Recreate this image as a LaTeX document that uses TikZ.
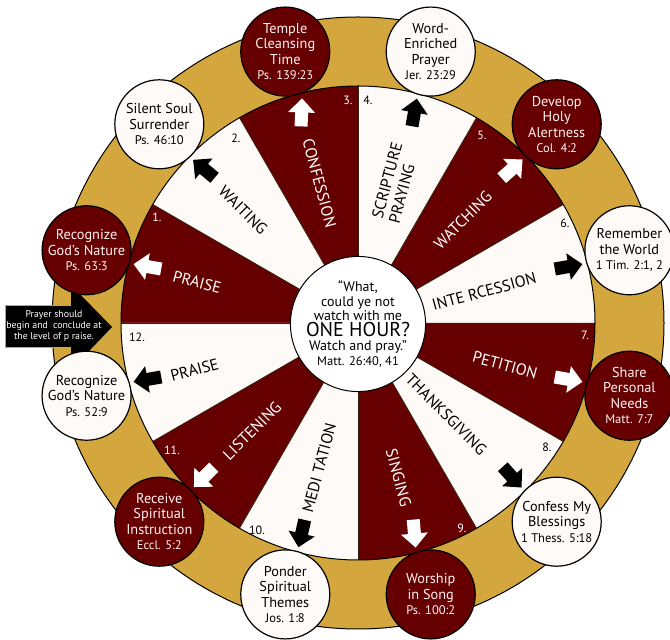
\documentclass[tikz,border=0pt]{standalone}
\usepackage{fontspec}
\setmainfont{PT Sans}
\usetikzlibrary{calc}
\definecolor{dred}{RGB}{102,0,0}
\definecolor{gold}{RGB}{212,167,62}
\definecolor{cream}{RGB}{253,250,247}
\newcommand{\refline}[1]{{\fontsize{12.5}{14}\selectfont #1}}
\begin{document}
\begin{tikzpicture}[x=1pt,y=1pt,
  wheelcirc/.style={circle, draw=black, line width=1.2pt, minimum size=89pt, inner sep=0pt, align=center, font=\fontsize{14.3}{15.5}\selectfont},
  darkcirc/.style={wheelcirc, fill=dred, text=white!95!red},
  lightcirc/.style={wheelcirc, fill=cream, text=black},
  wlabel/.style={font=\fontsize{16}{17.5}\selectfont, inner sep=0pt, align=left},
  num/.style={font=\fontsize{12}{14}\selectfont, inner sep=0pt},
  blockarrow/.pic={\path[pic actions] (-14,-6.5) -- (0,-6.5) -- (0,-13.5) -- (14,0) -- (0,13.5) -- (0,6.5) -- (-14,6.5) -- cycle;}
]
\useasboundingbox (0,0) rectangle (670,640);
\begin{scope}[shift={(358,317)}]
  % gold ring
  \fill[gold] (0,0) circle[radius=306];
  \draw[line width=1pt] (0,0) circle[radius=306];
  % sectors
  \foreach \a/\c in {0/cream,30/dred,60/cream,90/dred,120/cream,150/dred,180/cream,210/dred,240/cream,270/dred,300/cream,330/dred}
    \fill[\c] (0,0) -- (\a:237) arc[start angle=\a, end angle=\a+30, radius=237] -- cycle;
  \foreach \a in {0,30,...,330}
    \draw[line width=0.8pt, color=black!75!brown] (0,0) -- (\a:237);
  \draw[line width=1pt] (0,0) circle[radius=237];
  % hub
  \node[circle, draw, line width=1pt, fill=white, minimum size=120pt, inner sep=0pt, align=center,
        font=\fontsize{14}{14.5}\selectfont] (hub) at (0,-1)
    {“What,\\could ye not\\watch with me\\[1pt]
     {\fontsize{20}{16}\selectfont ONE HOUR?}\\[0pt]
     Watch and pray.”\\
     {\fontsize{12.5}{13.5}\selectfont Matt. 26:40, 41}};
  % sector labels
  \node[wlabel, text=white, rotate=-15] (l1) at (165.7:166) {PRAISE};
  \node[wlabel, rotate=-45] (l2) at (135.5:161) {WAITING};
  \node[wlabel, text=white, rotate=-75] (l3) at (105.4:145) {CONFESSION};
  \node[wlabel, rotate=75] (l4) at (75:145) {SCRIPTURE\\PRAYING};
  \node[wlabel, text=white, rotate=45] (l5) at (44.5:147) {WATCHING};
  \node[wlabel, rotate=15] (l6) at (14:130) {INTE RCESSION};
  \node[wlabel, text=white, rotate=-15] (l7) at (-16:153) {PETITION};
  \node[wlabel, rotate=-45] (l8) at (-46:127) {THANKSGIVING};
  \node[wlabel, text=white, rotate=-75] (l9) at (284.7:160) {SINGING};
  \node[wlabel, rotate=75] (l10) at (255:150) {MEDI TATION};
  \node[wlabel, text=white, rotate=45] (l11) at (225.5:151) {LISTENING};
  \node[wlabel, rotate=15] (l12) at (196:170) {PRAISE};
  % arrows
  \foreach \m/\r/\c [count=\k] in {165/170/white,135/140/black,105/88/white,75/80/black,45/42/white,15/10/black,-15/-10/white,-45/-48/black,-75/-85/white,-105/-103/black,-135/-135/white,-165/-170/black}
    \pic[fill=\c, rotate=\r] (arr\k) at (\m:218) {blockarrow};
\end{scope}
% numbers
\node[num, text=white] (n1) at (157,423) {1.};
\node[num] (n2) at (236,502) {2.};
\node[num, text=white] (n3) at (348,540) {3.};
\node[num] (n4) at (368,540) {4.};
\node[num, text=white] (n5) at (482,505) {5.};
\node[num] (n6) at (565,417) {6.};
\node[num, text=white] (n7) at (585,305) {7.};
\node[num] (n8) at (547,193) {8.};
\node[num, text=white] (n9) at (462,112) {9.};
\node[num] (n10) at (257,110) {10.};
\node[num, text=white] (n11) at (172,190) {11.};
\node[num] (n12) at (137,303) {12.};
% callout
\fill[black, draw=gray!70, line width=0.5pt] (5,293) rectangle (72,335);
\fill[black] (71,355) -- (112,313) -- (71,270) -- cycle;
\node[text=white, align=center, font=\fontsize{9.8}{11}\selectfont, inner sep=0pt] (note) at (54,314)
  {Prayer should\\begin and\ \ conclude at\\the level of p raise.};
% outer circles
\begin{scope}[shift={(358,317)}]
  \node[darkcirc] (c1) at (165:281) {Recognize\\God’s Nature\\\refline{Ps. 63:3}};
  \node[lightcirc] (c2) at (135:281) {Silent Soul\\Surrender\\\refline{Ps. 46:10}};
  \node[darkcirc] (c3) at (105:281) {Temple\\Cleansing\\Time\\\refline{Ps. 139:23}};
  \node[lightcirc] (c4) at (75:281) {Word-\\Enriched\\Prayer\\\refline{Jer. 23:29}};
  \node[darkcirc] (c5) at (45:281) {Develop\\Holy\\Alertness\\\refline{Col. 4:2}};
  \node[lightcirc] (c6) at (15:281) {Remember\\the World\\\refline{1 Tim. 2:1, 2}};
  \node[darkcirc] (c7) at (-15:281) {Share\\Personal\\Needs\\\refline{Matt. 7:7}};
  \node[lightcirc] (c8) at (-45:281) {Confess My\\Blessings\\\refline{1 Thess. 5:18}};
  \node[darkcirc] (c9) at (-75:281) {Worship\\in Song\\\refline{Ps. 100:2}};
  \node[lightcirc] (c10) at (-105:281) {Ponder\\Spiritual\\Themes\\\refline{Jos. 1:8}};
  \node[darkcirc] (c11) at (-135:281) {Receive\\Spiritual\\Instruction\\\refline{Eccl. 5:2}};
  \node[lightcirc] (c12) at (-165:281) {Recognize\\God’s Nature\\\refline{Ps. 52:9}};
\end{scope}
\end{tikzpicture}
\end{document}
